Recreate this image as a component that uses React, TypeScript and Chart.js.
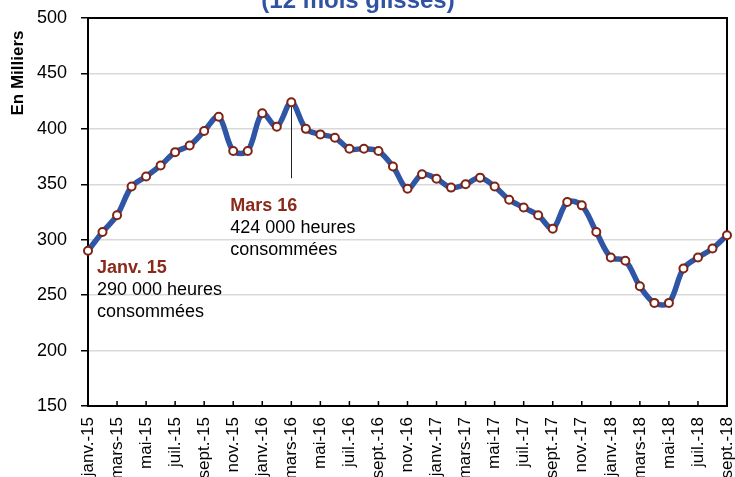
import React, { useEffect, useRef } from 'react';
import { Chart, registerables } from 'chart.js';

Chart.register(...registerables);

const months: string[] = [
  'janv.-15', 'févr.-15', 'mars-15', 'avr.-15', 'mai-15', 'juin-15', 'juil.-15', 'août-15', 'sept.-15', 'oct.-15', 'nov.-15', 'déc.-15',
  'janv.-16', 'févr.-16', 'mars-16', 'avr.-16', 'mai-16', 'juin-16', 'juil.-16', 'août-16', 'sept.-16', 'oct.-16', 'nov.-16', 'déc.-16',
  'janv.-17', 'févr.-17', 'mars-17', 'avr.-17', 'mai-17', 'juin-17', 'juil.-17', 'août-17', 'sept.-17', 'oct.-17', 'nov.-17', 'déc.-17',
  'janv.-18', 'févr.-18', 'mars-18', 'avr.-18', 'mai-18', 'juin-18', 'juil.-18', 'août-18', 'sept.-18',
];

const hours: number[] = [
  290, 307, 322, 348, 357, 367, 379, 385, 398, 411, 380, 380,
  414, 402, 424, 400, 395, 392, 382, 382, 380, 366, 346, 359,
  355, 347, 350, 356, 348, 336, 329, 322, 310, 334, 331, 307,
  284, 281, 258, 243, 243, 274, 284, 292, 304,
];

const yMin = 150;
const yMax = 500;
const yStep = 50;

const chartTitle = '(12 mois glissés)';
const yAxisTitle = 'En Milliers';

const noteJan = { index: 0, head: 'Janv. 15', lines: ['290 000 heures', 'consommées'] };
const noteMar = { index: 14, head: 'Mars 16', lines: ['424 000 heures', 'consommées'] };

const FONT = "'Liberation Sans', Arial, sans-serif";
const LINE_BLUE = '#2E55A6';
const MARK_RED = '#7E2414';
const NOTE_RED = '#8A2A1A';
const TITLE_BLUE = '#2F52A3';

const decor = {
  id: 'decor',
  beforeDatasetsDraw(chart: any) {
    const { ctx, chartArea: a, scales } = chart;
    ctx.save();
    ctx.strokeStyle = '#000';
    ctx.lineWidth = 2;
    ctx.beginPath();
    ctx.moveTo(a.left, a.top);
    ctx.lineTo(a.right, a.top);
    ctx.lineTo(a.right, a.bottom);
    ctx.stroke();
    ctx.lineWidth = 1.5;
    ctx.beginPath();
    for (let i = 0; i < months.length; i += 2) {
      const x = scales.x.getPixelForValue(i);
      ctx.moveTo(x, a.bottom);
      ctx.lineTo(x, a.bottom - 5);
    }
    ctx.stroke();
    const mx = scales.x.getPixelForValue(noteMar.index);
    const my = scales.y.getPixelForValue(hours[noteMar.index]);
    ctx.strokeStyle = '#222';
    ctx.lineWidth = 1;
    ctx.beginPath();
    ctx.moveTo(Math.round(mx) + 0.5, my);
    ctx.lineTo(Math.round(mx) + 0.5, my + 76);
    ctx.stroke();
    ctx.restore();
  },
  afterDraw(chart: any) {
    const { ctx, chartArea: a, scales } = chart;
    ctx.save();
    // title
    ctx.fillStyle = TITLE_BLUE;
    ctx.font = `bold 24px ${FONT}`;
    ctx.textAlign = 'center';
    ctx.textBaseline = 'alphabetic';
    ctx.fillText(chartTitle, a.left + 270, a.top - 10);
    // y axis title
    ctx.save();
    ctx.translate(a.left - 70, a.top + 55);
    ctx.rotate(-Math.PI / 2);
    ctx.fillStyle = '#000';
    ctx.font = `bold 17px ${FONT}`;
    ctx.textAlign = 'center';
    ctx.textBaseline = 'middle';
    ctx.fillText(yAxisTitle, 0, 0);
    ctx.restore();
    // notes
    const drawNote = (note: any, dx: number, dy: number) => {
      const px = scales.x.getPixelForValue(note.index);
      const py = scales.y.getPixelForValue(hours[note.index]);
      ctx.textAlign = 'left';
      ctx.textBaseline = 'alphabetic';
      ctx.fillStyle = NOTE_RED;
      ctx.font = `bold 18px ${FONT}`;
      ctx.fillText(note.head, px + dx, py + dy);
      ctx.fillStyle = '#000';
      ctx.font = `18px ${FONT}`;
      note.lines.forEach((l: string, k: number) => {
        ctx.fillText(l, px + dx, py + dy + 22 * (k + 1));
      });
    };
    drawNote(noteJan, 9, 22);
    drawNote(noteMar, -61, 109);
    ctx.restore();
  },
};

export default function App() {
  const ref = useRef<HTMLCanvasElement | null>(null);

  useEffect(() => {
    if (!ref.current) return;
    const chart = new Chart(ref.current, {
      type: 'line',
      data: {
        labels: months,
        datasets: [
          {
            data: hours,
            borderColor: LINE_BLUE,
            borderWidth: 5.5,
            tension: 0.33,
            pointRadius: 4,
            pointBorderWidth: 2,
            pointBackgroundColor: '#fff',
            pointBorderColor: MARK_RED,
            clip: false,
          } as any,
        ],
      },
      options: {
        animation: false,
        responsive: true,
        maintainAspectRatio: false,
        layout: { padding: { top: 18, right: 8, left: 0, bottom: 0 } },
        plugins: {
          legend: { display: false },
          tooltip: { enabled: false },
          title: { display: false },
        },
        scales: {
          x: {
            type: 'category',
            grid: { display: true, drawOnChartArea: false, drawTicks: false },
            border: { display: true, color: '#000', width: 2 },
            ticks: {
              autoSkip: false,
              minRotation: 90,
              maxRotation: 90,
              padding: 11,
              color: '#000',
              font: { family: FONT, size: 17 },
              callback: (_v: any, i: number) => (i % 2 === 0 ? months[i] : null),
            },
            afterFit: (s: any) => {
              s.height = 114;
              s.paddingLeft = 0;
              s.paddingRight = 0;
            },
          },
          y: {
            min: yMin,
            max: yMax,
            grid: { color: '#d9d9d9', lineWidth: 1.5, tickColor: '#000', tickLength: 7, tickWidth: 1.5 },
            border: { display: true, color: '#000', width: 2 },
            ticks: {
              stepSize: yStep,
              padding: 14,
              color: '#000',
              font: { family: FONT, size: 18 },
            },
            afterFit: (s: any) => {
              s.width = 88;
              s.paddingTop = 0;
              s.paddingBottom = 0;
            },
          },
        },
      },
      plugins: [decor],
    });
    return () => chart.destroy();
  }, []);

  return (
    <div style={{ position: 'fixed', left: 0, top: 0, width: 735, height: 477, overflow: 'hidden', background: '#fff' }}>
      <div style={{ position: 'relative', width: 735, height: 520 }}>
        <canvas ref={ref} />
      </div>
    </div>
  );
}
